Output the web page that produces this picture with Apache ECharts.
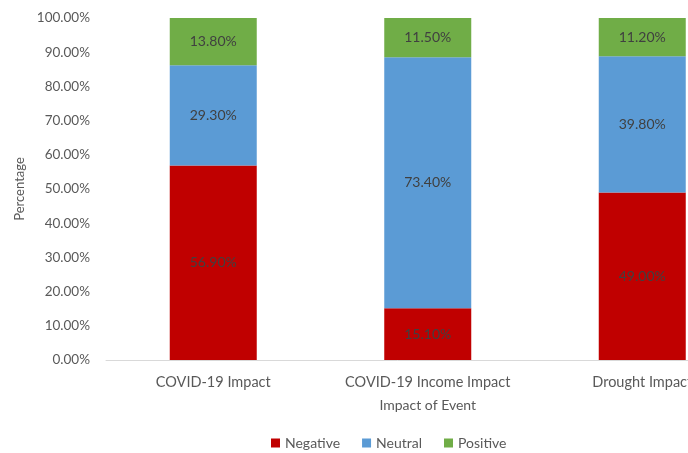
<!DOCTYPE html>
<html>
<head>
<meta charset="utf-8">
<script src="https://cdn.jsdelivr.net/npm/echarts@6/dist/echarts.min.js"></script>
<style>
  html, body { margin: 0; padding: 0; background: #fff; }
  #chart { width: 688px; height: 453px; }
</style>
</head>
<body>
<div id="chart"></div>
<script>
// Share of responses by event impact (percent)
const categories = ['COVID-19 Impact', 'COVID-19 Income Impact', 'Drought Impact'];
const negative = [56.9, 15.1, 49.0];
const neutral = [29.3, 73.4, 39.8];
const positive = [13.8, 11.5, 11.2];
const yTicks = [0, 10, 20, 30, 40, 50, 60, 70, 80, 90, 100];

const FONT = 'Lato, "Open Sans", sans-serif';
const labelStyle = {
  show: true,
  position: 'inside',
  formatter: p => p.value.toFixed(2) + '%',
  color: '#404040',
  fontSize: 14,
  fontFamily: FONT
};

function barSeries(name, data, color) {
  return {
    name, type: 'bar', stack: 'total', data,
    barWidth: 87,
    itemStyle: { color },
    label: labelStyle
  };
}

const chart = echarts.init(document.getElementById('chart'));
chart.setOption({
  animation: false,
  textStyle: { fontFamily: FONT },
  // plot area runs past the right edge, so the last column is cut off
  grid: { left: 106, top: 18, width: 643.5, height: 342, outerBoundsMode: 'none', containLabel: false },
  legend: {
    top: 431, left: 266,
    itemWidth: 9, itemHeight: 9, itemGap: 22,
    icon: 'rect',
    textStyle: { color: '#595959', fontSize: 14, fontFamily: FONT },
    data: ['Negative', 'Neutral', 'Positive']
  },
  xAxis: {
    type: 'category',
    data: categories,
    name: 'Impact of Event',
    nameLocation: 'middle',
    nameGap: 38,
    nameTextStyle: { color: '#595959', fontSize: 14, fontFamily: FONT },
    axisLine: { lineStyle: { color: '#d9d9d9', width: 1 } },
    axisTick: { show: false },
    axisLabel: { color: '#595959', fontSize: 14.5, margin: 15, fontFamily: FONT, interval: 0 }
  },
  yAxis: {
    type: 'value',
    min: yTicks[0], max: yTicks[yTicks.length - 1], interval: 10,
    name: 'Percentage',
    nameLocation: 'middle',
    nameGap: 78,
    nameTextStyle: { color: '#595959', fontSize: 13, fontFamily: FONT },
    axisLine: { show: false },
    axisTick: { show: false },
    splitLine: { show: false },
    axisLabel: {
      color: '#595959', fontSize: 13.5, margin: 16, fontFamily: FONT,
      formatter: v => v.toFixed(2) + '%'
    }
  },
  series: [
    barSeries('Negative', negative, '#C00000'),
    barSeries('Neutral', neutral, '#5B9BD5'),
    barSeries('Positive', positive, '#70AD47')
  ]
});
</script>
</body>
</html>
